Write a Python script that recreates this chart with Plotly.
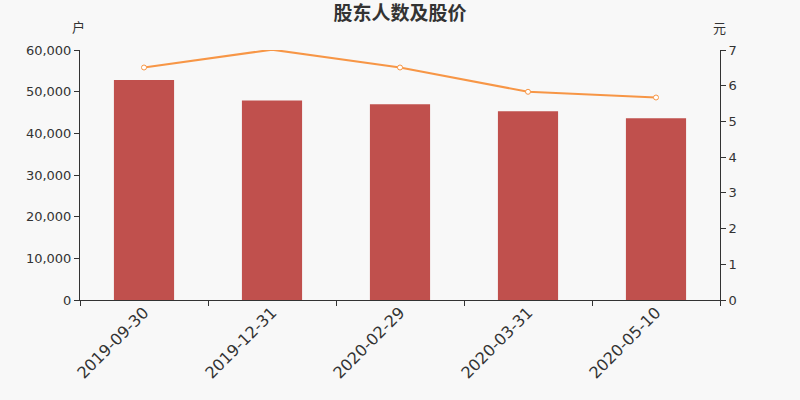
import plotly.graph_objects as go

dates = ["2019-09-30", "2019-12-31", "2020-02-29", "2020-03-31", "2020-05-10"]
holders = [52800, 47900, 47000, 45300, 43600]
price = [6.51, 7.01, 6.51, 5.83, 5.67]

font_family = "DejaVu Sans, Noto Sans CJK SC"
fig = go.Figure()
fig.add_trace(go.Bar(x=dates, y=holders, marker=dict(color="#c0504d", line=dict(width=0)),
                     name="股东人数", width=0.47))
fig.add_trace(go.Scatter(x=dates, y=price, yaxis="y2", mode="lines+markers",
                         line=dict(color="#f79646", width=2), cliponaxis=False,
                         marker=dict(symbol="circle", size=5, color="white",
                                     line=dict(color="#f79646", width=1)),
                         name="股价"))

pw, ph = 640, 250
fig.update_layout(
    width=800, height=400,
    paper_bgcolor="#f8f8f8", plot_bgcolor="#f8f8f8",
    margin=dict(l=80, r=80, t=50, b=100, autoexpand=False),
    showlegend=False,
    font=dict(family=font_family, color="#333333", size=13),
    title=dict(text="<b>股东人数及股价</b>", x=0.5, xanchor="center", y=1 - 13 / 400, yanchor="middle",
               font=dict(size=19, color="#333333", family=font_family)),
    xaxis=dict(type="category", tickson="boundaries", ticks="outside", ticklen=5,
               tickcolor="#333333", showline=True, linecolor="#333333", linewidth=1,
               showgrid=False, tickangle=-45, tickfont=dict(size=16, color="#333333"),
               range=[-0.5, 4.5], automargin=False, ticklabelstandoff=-4),
    yaxis=dict(range=[0, 60000], dtick=10000, tickformat=",d", ticks="outside", ticklen=5,
               tickcolor="#333333", showline=True, linecolor="#333333", linewidth=1,
               showgrid=False, zeroline=False, tickfont=dict(size=13, color="#333333"),
               automargin=False),
    yaxis2=dict(range=[0, 7], dtick=1, overlaying="y", side="right", ticks="outside", ticklen=5,
                tickcolor="#333333", showline=True, linecolor="#333333", linewidth=1,
                showgrid=False, zeroline=False, tickfont=dict(size=13, color="#333333"),
                automargin=False),
    annotations=[
        dict(text="户", x=(78 - 80) / pw, y=(300 - 28) / ph, xref="paper", yref="paper",
             xanchor="center", yanchor="middle",
             showarrow=False, font=dict(size=13, color="#333333")),
        dict(text="元", x=(719 - 80) / pw, y=(300 - 29) / ph, xref="paper", yref="paper",
             xanchor="center", yanchor="middle",
             showarrow=False, font=dict(size=13, color="#333333")),
    ],
)

fig.write_html("out.html", config={"displayModeBar": False})
with open("out.html", "r", encoding="utf-8") as f:
    html = f.read()
html = html.replace("<head>", "<head><style>html,body{margin:0;padding:0;background:#f8f8f8;overflow:hidden}</style>", 1)
with open("out.html", "w", encoding="utf-8") as f:
    f.write(html)
